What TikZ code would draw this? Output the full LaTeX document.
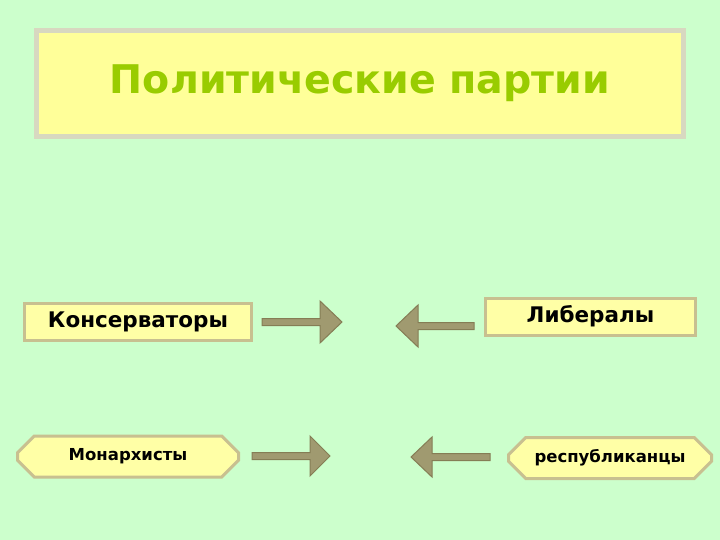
\documentclass[tikz,border=0pt]{standalone}
\usepackage{fontspec}
\setmainfont{DejaVu Sans}
\usetikzlibrary{shapes.misc}
\definecolor{bg}{HTML}{CCFFCC}
\definecolor{ybox}{HTML}{FFFF99}
\definecolor{ybox2}{HTML}{FFFFA6}
\definecolor{tborder}{HTML}{D8D8C0}
\definecolor{bborder}{HTML}{C8C090}
\definecolor{titlegreen}{HTML}{99CC00}
\definecolor{arrfill}{HTML}{A09A70}
\definecolor{arrline}{HTML}{857D55}
\tikzset{
  titlebox/.style={draw=tborder, line width=5pt, fill=ybox, minimum width=647pt, minimum height=106pt, inner sep=0pt, text=titlegreen, font=\bfseries\fontsize{39.5}{44}\selectfont},
  rectbox/.style={draw=bborder, line width=3pt, fill=ybox2, inner sep=0pt, font=\bfseries\fontsize{21.5}{24}\selectfont},
  octbox/.style={chamfered rectangle, chamfered rectangle xsep=9pt, chamfered rectangle ysep=9pt, draw=bborder, line width=3pt, fill=ybox2, inner sep=0pt, font=\bfseries\fontsize{16.5}{20}\selectfont},
  arrowshape/.style={fill=arrfill, draw=arrline, line width=1pt, line join=miter}
}
\begin{document}
\begin{tikzpicture}[x=1pt,y=-1pt]
\useasboundingbox (0,0) rectangle (720,540);
\fill[bg] (0,0) rectangle (720,540);
\node[titlebox] (title) at (360,83.5) {Политические партии};
\node[rectbox, minimum width=227pt, minimum height=37pt] (kons) at (138,322) {Консерваторы};
\node[rectbox, minimum width=210pt, minimum height=37pt] (lib) at (590.5,316.5) {Либералы};
\node[octbox, minimum width=221pt, minimum height=41pt] (mon) at (128,456.5) {Монархисты};
\node[octbox, minimum width=203pt, minimum height=41pt] (resp) at (610,458) {республиканцы};
% arrows
\coordinate (a1s) at (262,322);
\coordinate (a1t) at (342,322);
\coordinate (a2s) at (474,326);
\coordinate (a2t) at (396,326);
\coordinate (a3s) at (252,456);
\coordinate (a3t) at (330,456);
\coordinate (a4s) at (490,457);
\coordinate (a4t) at (411,457);
\draw[arrowshape] ([yshift=-3.5pt]a1s) -- ([xshift=-22pt,yshift=-3.5pt]a1t) -- ([xshift=-22pt,yshift=-21pt]a1t) -- (a1t) -- ([xshift=-22pt,yshift=21pt]a1t) -- ([xshift=-22pt,yshift=3.5pt]a1t) -- ([yshift=3.5pt]a1s) -- cycle;
\draw[arrowshape] ([yshift=-3.5pt]a2s) -- ([xshift=22pt,yshift=-3.5pt]a2t) -- ([xshift=22pt,yshift=-21pt]a2t) -- (a2t) -- ([xshift=22pt,yshift=21pt]a2t) -- ([xshift=22pt,yshift=3.5pt]a2t) -- ([yshift=3.5pt]a2s) -- cycle;
\draw[arrowshape] ([yshift=-3.5pt]a3s) -- ([xshift=-20pt,yshift=-3.5pt]a3t) -- ([xshift=-20pt,yshift=-20pt]a3t) -- (a3t) -- ([xshift=-20pt,yshift=20pt]a3t) -- ([xshift=-20pt,yshift=3.5pt]a3t) -- ([yshift=3.5pt]a3s) -- cycle;
\draw[arrowshape] ([yshift=-3.5pt]a4s) -- ([xshift=21pt,yshift=-3.5pt]a4t) -- ([xshift=21pt,yshift=-20pt]a4t) -- (a4t) -- ([xshift=21pt,yshift=20pt]a4t) -- ([xshift=21pt,yshift=3.5pt]a4t) -- ([yshift=3.5pt]a4s) -- cycle;
\end{tikzpicture}
\end{document}
